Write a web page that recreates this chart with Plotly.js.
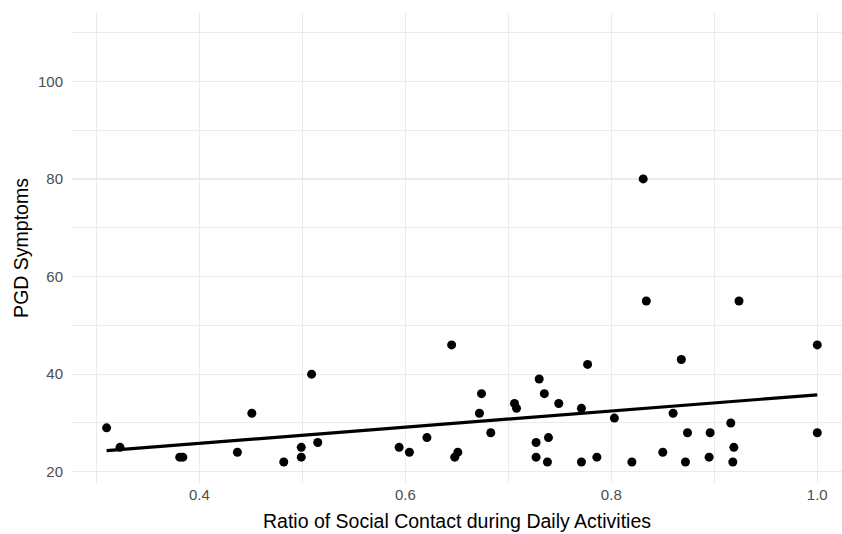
<!DOCTYPE html>
<html>
<head>
<meta charset="utf-8">
<script src="https://cdn.plot.ly/plotly-3.0.1.min.js"></script>
<style>html,body{margin:0;padding:0;background:#fff;}#chart{width:842px;height:534px;}</style>
</head>
<body>
<div id="chart"></div>
<script>
// Ratio of social contact during daily activities (x) and PGD symptoms (y)
const ratio = [0.310, 0.323, 0.381, 0.384, 0.437, 0.451, 0.482, 0.499, 0.499, 0.509,
  0.515, 0.594, 0.604, 0.621, 0.645, 0.648, 0.651, 0.672, 0.674, 0.683,
  0.706, 0.708, 0.727, 0.727, 0.730, 0.735, 0.738, 0.739, 0.749, 0.771,
  0.771, 0.777, 0.786, 0.803, 0.820, 0.831, 0.834, 0.850, 0.860, 0.868,
  0.872, 0.874, 0.895, 0.896, 0.916, 0.918, 0.919, 0.924, 1.000, 1.000];
const pgd = [29, 25, 23, 23, 24, 32, 22, 25, 23, 40,
  26, 25, 24, 27, 46, 23, 24, 32, 36, 28,
  34, 33, 26, 23, 39, 36, 22, 27, 34, 33,
  22, 42, 23, 31, 22, 80, 55, 24, 32, 43,
  22, 28, 23, 28, 30, 22, 25, 55, 46, 28];
const xTicks = [0.4, 0.6, 0.8, 1.0];
const xTickText = ['0.4', '0.6', '0.8', '1.0'];
const yTicks = [20, 40, 60, 80, 100];
const yTickText = ['20', '40', '60', '80', '100'];

// least-squares fit (geom_smooth method = "lm")
const n = ratio.length;
const mx = ratio.reduce((a, b) => a + b, 0) / n;
const my = pgd.reduce((a, b) => a + b, 0) / n;
let sxy = 0, sxx = 0;
for (let i = 0; i < n; i++) { sxy += (ratio[i] - mx) * (pgd[i] - my); sxx += (ratio[i] - mx) ** 2; }
const slope = sxy / sxx, intercept = my - slope * mx;
const xMin = Math.min(...ratio), xMax = Math.max(...ratio);
const fitX = [xMin, xMax];
const fitY = fitX.map(v => intercept + slope * v);

const traces = [
  {type: 'scatter', mode: 'markers', x: ratio, y: pgd,
   marker: {color: '#000000', size: 9}, hoverinfo: 'x+y', showlegend: false},
  {type: 'scatter', mode: 'lines', x: fitX, y: fitY,
   line: {color: '#000000', width: 3.2}, hoverinfo: 'skip', showlegend: false}
];

const font = "'Liberation Sans', Arial, sans-serif";
const layout = {
  width: 842, height: 534,
  margin: {l: 72, r: 0, t: 13, b: 51, pad: 0},
  paper_bgcolor: '#ffffff', plot_bgcolor: '#ffffff',
  font: {family: font},
  showlegend: false,
  xaxis: {
    range: [0.2764, 1.024], tickvals: xTicks, ticktext: xTickText,
    showgrid: true, gridcolor: '#EBEBEB', gridwidth: 1.2, zeroline: false, showline: false,
    ticks: '', ticklen: 0, ticklabelstandoff: 1, tickfont: {size: 15, color: '#4D4D4D', family: font},
    minor: {dtick: 0.2, tick0: 0.3, showgrid: true, gridcolor: '#EBEBEB', gridwidth: 1},
    title: {text: 'Ratio of Social Contact during Daily Activities', font: {size: 19.5, color: '#000000', family: font}, standoff: 12},
    automargin: false
  },
  yaxis: {
    range: [17.7, 114.0], tickvals: yTicks, ticktext: yTickText,
    showgrid: true, gridcolor: '#EBEBEB', gridwidth: 1.2, zeroline: false, showline: false,
    ticks: '', ticklen: 0, ticklabelstandoff: 8, tickfont: {size: 15, color: '#4D4D4D', family: font},
    minor: {dtick: 20, tick0: 10, showgrid: true, gridcolor: '#EBEBEB', gridwidth: 1},
    title: {text: 'PGD Symptoms', font: {size: 19.5, color: '#000000', family: font}, standoff: 4},
    automargin: false
  }
};

Plotly.newPlot('chart', traces, layout, {displayModeBar: false, staticPlot: true});
</script>
</body>
</html>
